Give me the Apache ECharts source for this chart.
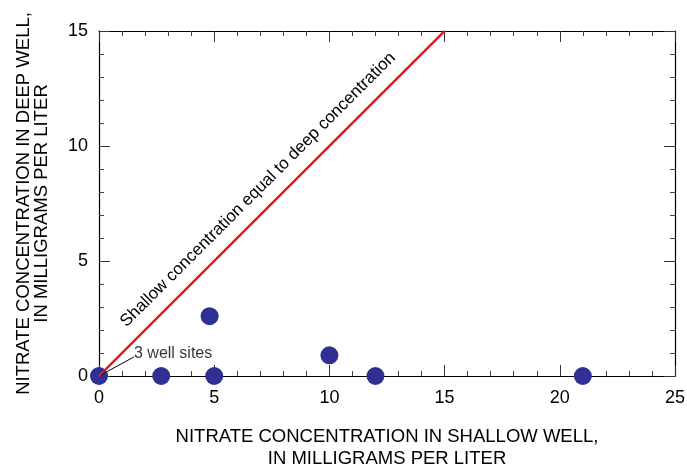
<!DOCTYPE html>
<html>
<head>
<meta charset="utf-8">
<script src="https://cdn.jsdelivr.net/npm/echarts@6/dist/echarts.min.js"></script>
<style>html,body{margin:0;padding:0;background:#fff;overflow:hidden}#c{width:687px;height:468px}</style>
</head>
<body>
<div id="c"></div>
<script>
// Data
const shallowValues = [0, 2.7, 4.8, 5.0, 10.0, 12.0, 21.0];
const deepValues    = [0, 0,   2.6, 0,   0.9,  0,    0];
const equalLineX = [0, 15];
const equalLineY = [0, 15];
const equalLineLabel = 'Shallow concentration equal to deep concentration';
const leaderX = [0, 1.52];
const leaderY = [0, 0.83];
const noteX = [1.52];
const noteY = [0.96];
const noteText = '3 well sites';
const xTicks = [0, 5, 10, 15, 20, 25];
const yTicks = [0, 5, 10, 15];
const xTitle = 'NITRATE CONCENTRATION IN SHALLOW WELL,\nIN MILLIGRAMS PER LITER';
const yTitle = 'NITRATE CONCENTRATION IN DEEP WELL,\nIN MILLIGRAMS PER LITER';

const FONT = "'Liberation Sans', Arial, sans-serif";
const chart = echarts.init(document.getElementById('c'), null, {renderer: 'canvas', width: 687, height: 468});

function axisBase(extra) {
  return Object.assign({
    type: 'value',
    axisLine: {show: true, onZero: false, lineStyle: {color: '#000', width: 1.2}},
    axisTick: {show: true, inside: true, length: 11, lineStyle: {color: '#333', width: 1}},
    minorTick: {show: true, splitNumber: 5, length: 5, lineStyle: {color: '#444', width: 1}},
    splitLine: {show: false},
    minorSplitLine: {show: false}
  }, extra);
}

const xMax = xTicks[xTicks.length - 1];
const yMax = yTicks[yTicks.length - 1];

chart.setOption({
  animation: false,
  backgroundColor: '#fff',
  textStyle: {fontFamily: FONT},
  grid: {left: 99, right: 12, top: 31, bottom: 92, containLabel: false, outerBoundsMode: 'none'},
  xAxis: [
    axisBase({
      position: 'bottom', min: 0, max: xMax, interval: 5,
      name: xTitle, nameLocation: 'middle', nameGap: 50,
      nameTextStyle: {fontSize: 18.5, color: '#000', fontFamily: FONT, lineHeight: 22},
      axisLabel: {show: true, fontSize: 18, color: '#000', fontFamily: FONT, margin: 13}
    }),
    axisBase({position: 'top', min: 0, max: xMax, interval: 5, axisLabel: {show: false}})
  ],
  yAxis: [
    axisBase({
      position: 'left', min: 0, max: yMax, interval: 5,
      name: yTitle, nameLocation: 'middle', nameGap: 48, nameRotate: 90,
      nameTextStyle: {fontSize: 18.5, color: '#000', fontFamily: FONT, lineHeight: 18},
      axisLabel: {show: true, fontSize: 18, color: '#000', fontFamily: FONT, margin: 11}
    }),
    axisBase({position: 'right', min: 0, max: yMax, interval: 5, axisLabel: {show: false}})
  ],
  series: [
    {
      type: 'scatter', xAxisIndex: 0, yAxisIndex: 0, z: 2,
      symbol: 'circle', symbolSize: 18,
      itemStyle: {color: '#2E3192', opacity: 1},
      data: shallowValues.map((v, i) => [v, deepValues[i]])
    },
    {
      type: 'line', xAxisIndex: 0, yAxisIndex: 0, z: 3,
      symbol: 'none', silent: true,
      lineStyle: {color: '#E8141B', width: 2},
      data: equalLineX.map((v, i) => [v, equalLineY[i]]),
      markLine: {
        silent: true, symbol: ['none', 'none'],
        lineStyle: {color: '#E8141B', width: 2, type: 'solid'},
        label: {
          show: true, position: 'insideMiddleTop', distance: 11,
          formatter: equalLineLabel, fontSize: 17, color: '#000', fontFamily: FONT
        },
        data: [[{coord: [equalLineX[0], equalLineY[0]]}, {coord: [equalLineX[1], equalLineY[1]]}]]
      }
    },
    {
      type: 'line', xAxisIndex: 0, yAxisIndex: 0, z: 3,
      symbol: 'none', silent: true,
      lineStyle: {color: '#000', width: 1},
      data: leaderX.map((v, i) => [v, leaderY[i]])
    },
    {
      type: 'scatter', xAxisIndex: 0, yAxisIndex: 0, z: 4,
      symbolSize: 0, silent: true,
      label: {show: true, position: 'right', distance: 0, formatter: noteText,
              fontSize: 16, color: '#000', fontFamily: FONT},
      data: noteX.map((v, i) => [v, noteY[i]])
    }
  ]
});
</script>
</body>
</html>
